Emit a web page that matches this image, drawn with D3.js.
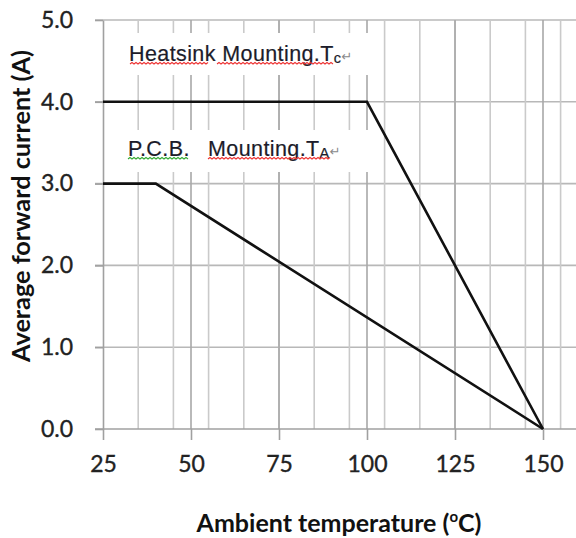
<!DOCTYPE html>
<html>
<head>
<meta charset="utf-8">
<script src="https://cdn.jsdelivr.net/npm/d3@7"></script>
<style>
  html, body { margin: 0; padding: 0; background: #fff; }
  svg { display: block; }
</style>
</head>
<body>
<div id="chart"></div>
<script>
// ---- data ----
const heatsinkTemps = [25, 100, 150];
const heatsinkCurrent = [4.0, 4.0, 0.0];
const pcbTemps = [25, 40, 150];
const pcbCurrent = [3.0, 3.0, 0.0];
const xTicks = [25, 50, 75, 100, 125, 150];
const xMinorGrid = [35, 45, 55, 65, 75, 85, 95, 105, 115, 125, 135, 145, 155];
const yTicks = [0, 1, 2, 3, 4, 5];
const xTitle = "Ambient temperature (";
const yTitle = "Average forward current (A)";

// ---- layout ----
const W = 576, H = 538;
const svg = d3.select("#chart").append("svg").attr("width", W).attr("height", H);

const x = d3.scaleLinear().domain([25, 175]).range([103, 631]);
const y = d3.scaleLinear().domain([0, 5]).range([429, 20]);

const tickFont = "Lato, 'Open Sans', sans-serif";

// horizontal grid
svg.append("g").selectAll("line").data(yTicks.filter(d => d > 0)).join("line")
  .attr("x1", 95).attr("x2", W)
  .attr("y1", d => y(d)).attr("y2", d => y(d))
  .attr("stroke", "#b8b8b8").attr("stroke-width", 1.6);

// minor vertical grid
svg.append("g").selectAll("line").data(xMinorGrid).join("line")
  .attr("x1", d => x(d)).attr("x2", d => x(d))
  .attr("y1", y(5)).attr("y2", y(0))
  .attr("stroke", "#cacaca").attr("stroke-width", 1.6);

// major vertical grid
svg.append("g").selectAll("line").data(xTicks.slice(1)).join("line")
  .attr("x1", d => x(d)).attr("x2", d => x(d))
  .attr("y1", y(5)).attr("y2", y(0))
  .attr("stroke", "#a8a8a8").attr("stroke-width", 1.6);

// label boxes (white) over gridlines
svg.append("rect").attr("x", 105).attr("y", 33).attr("width", 270).attr("height", 42).attr("fill", "#fff");
svg.append("rect").attr("x", 105).attr("y", 130).attr("width", 270).attr("height", 42).attr("fill", "#fff");

// x axis
const xAxis = d3.axisBottom(x).tickValues(xTicks).tickSize(11).tickPadding(16).tickSizeOuter(0);
const gx = svg.append("g").attr("transform", `translate(0,${y(0)})`).call(xAxis);
gx.select(".domain").attr("stroke", "#a0a0a0").attr("stroke-width", 1.6)
  .attr("d", `M95,0H${W}`);
gx.selectAll(".tick line").attr("stroke", "#a0a0a0").attr("stroke-width", 1.6);
gx.selectAll(".tick text").attr("font-family", tickFont).attr("font-size", 23)
  .attr("fill", "#222").attr("stroke", "#222").attr("stroke-width", 0.35).attr("dy", "0.71em");

// y axis
const yAxis = d3.axisLeft(y).tickValues(yTicks).tickFormat(d3.format(".1f")).tickSize(8).tickPadding(22).tickSizeOuter(0);
const gy = svg.append("g").attr("transform", `translate(${x(25)},0)`).call(yAxis);
gy.select(".domain").attr("stroke", "#a0a0a0").attr("stroke-width", 1.6);
gy.selectAll(".tick line").attr("stroke", "#a0a0a0").attr("stroke-width", 1.6);
gy.selectAll(".tick text").attr("font-family", tickFont).attr("font-size", 23)
  .attr("fill", "#222").attr("stroke", "#222").attr("stroke-width", 0.35);

// data lines
const line = d3.line().x(d => x(d[0])).y(d => y(d[1]));
svg.append("path").datum(heatsinkTemps.map((t, i) => [t, heatsinkCurrent[i]]))
  .attr("d", line).attr("fill", "none").attr("stroke", "#111").attr("stroke-width", 2.6);
svg.append("path").datum(pcbTemps.map((t, i) => [t, pcbCurrent[i]]))
  .attr("d", line).attr("fill", "none").attr("stroke", "#111").attr("stroke-width", 2.6);

// annotations
function wavy(x0, x1, yy, color) {
  let d = `M${x0},${yy}`;
  let up = true;
  for (let xx = x0 + 2; xx <= x1; xx += 2) { d += `L${xx},${yy + (up ? -1.5 : 0)}`; up = !up; }
  svg.append("path").attr("d", d).attr("fill", "none").attr("stroke", color).attr("stroke-width", 1.1);
}
const annFont = "'Liberation Sans', Arial, sans-serif";
function label(pieces, by, sub, wav) {
  const t = svg.append("text").attr("y", by)
    .attr("font-family", annFont).attr("font-size", 21.5).attr("letter-spacing", 0.4)
    .attr("fill", "#1c1c2a").attr("stroke", "#1c1c2a").attr("stroke-width", 0.2);
  pieces.forEach(p => t.append("tspan").attr("x", p[0]).text(p[1]));
  t.append("tspan").attr("font-size", 14.5).attr("dy", 2).text(sub);
  t.append("tspan").attr("font-size", 13).attr("dy", -2).attr("fill", "#8a8a8a").attr("stroke", "none")
    .attr("font-family", "'DejaVu Sans', sans-serif").text("\u21B5");
  wav.forEach(w => wavy(w[0], w[1], by + 3, w[2]));
}
label([[129, "Heatsink Mounting.T"]], 61, "c", [[130, 208, "#e33"], [217, 334, "#e33"]]);
label([[128, "P.C.B."], [208, "Mounting.T"]], 156, "A", [[128, 188, "#3a3"], [208, 330, "#e33"]]);

// axis titles
const xt = svg.append("text").attr("x", 339).attr("y", 532).attr("text-anchor", "middle")
  .attr("font-family", tickFont).attr("font-weight", 700).attr("font-size", 25).attr("fill", "#111");
xt.append("tspan").text(xTitle);
xt.append("tspan").attr("font-size", 15).attr("dy", -10).text("o");
xt.append("tspan").attr("dy", 10).text("C)");

svg.append("text").attr("transform", "translate(30,206) rotate(-90)").attr("text-anchor", "middle")
  .attr("font-family", tickFont).attr("font-weight", 700).attr("font-size", 25).attr("fill", "#111")
  .attr("textLength", 312).attr("lengthAdjust", "spacingAndGlyphs")
  .text(yTitle);
</script>
</body>
</html>
